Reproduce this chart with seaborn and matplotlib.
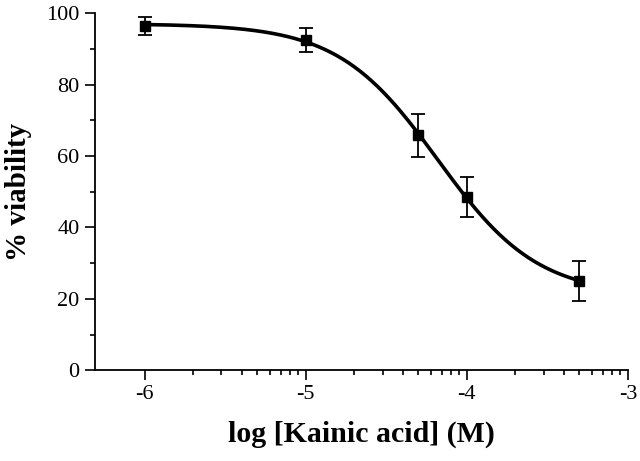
import numpy as np
import pandas as pd
import matplotlib
matplotlib.use('Agg')
import matplotlib.pyplot as plt
import seaborn as sns

# measured points (mean +/- error)
log_conc = [-6.0, -5.0, -4.301, -4.0, -3.301]
viability = [96.5, 92.6, 65.8, 48.6, 25.0]
error = [2.5, 3.3, 6.0, 5.6, 5.7]

x_ticks = [-6, -5, -4, -3]
y_ticks = [0, 20, 40, 60, 80, 100]


def fit_logistic(x, y):
    # 4-parameter logistic, grid over ec50 / slope, top & bottom by least squares
    x = np.asarray(x)
    y = np.asarray(y)
    best = None
    for c in np.linspace(-5.0, -3.5, 301):
        for h in np.linspace(0.3, 3.0, 271):
            f = 1.0 / (1.0 + 10 ** ((x - c) * h))
            A = np.column_stack([1 - f, f])
            coef, *_ = np.linalg.lstsq(A, y, rcond=None)
            err = np.sum((A @ coef - y) ** 2)
            if best is None or err < best[0]:
                best = (err, c, h, coef)
    _, c, h, (bottom, top) = best
    return lambda xx: bottom + (top - bottom) / (1.0 + 10 ** ((xx - c) * h))


curve = fit_logistic(log_conc, viability)
xs = np.linspace(min(log_conc), max(log_conc), 300)
fit_df = pd.DataFrame({'x': xs, 'y': curve(xs)})

sns.set_style('ticks')
plt.rcParams['font.family'] = ['Liberation Serif', 'DejaVu Serif']

fig = plt.figure(figsize=(6.4, 4.61), dpi=100)
ax = fig.add_axes([0.148, 0.197, 0.833, 0.774])

sns.lineplot(data=fit_df, x='x', y='y', ax=ax, color='black', lw=2.6)
ax.errorbar(log_conc, viability, yerr=error, fmt='s', color='black',
            ms=7, capsize=5, elinewidth=1.3, capthick=1.3)

ax.set_xlim(-6.31, -3)
ax.set_ylim(0, 100)
ax.set_xticks(x_ticks)
ax.set_xticklabels([str(t) for t in x_ticks])
ax.set_yticks(y_ticks)
minor_x = [d + np.log10(k) for d in (-6, -5, -4) for k in range(2, 10)]
ax.set_xticks(minor_x, minor=True)
ax.set_yticks(range(10, 100, 20), minor=True)

ax.tick_params(which='major', direction='out', length=7, width=1.2,
               labelsize=16, colors='black', pad=4)
ax.tick_params(which='minor', direction='out', length=3.5, width=1.2, colors='black')

sns.despine(ax=ax)
for s in ('left', 'bottom'):
    ax.spines[s].set_linewidth(1.3)
    ax.spines[s].set_color('black')

ax.set_xlabel('log [Kainic acid] (M)', fontsize=21.5, fontweight='bold',
              labelpad=12, color='black')
ax.set_ylabel('% viability', fontsize=21, fontweight='bold',
              labelpad=10, color='black')

fig.savefig('out.png', dpi=100)
